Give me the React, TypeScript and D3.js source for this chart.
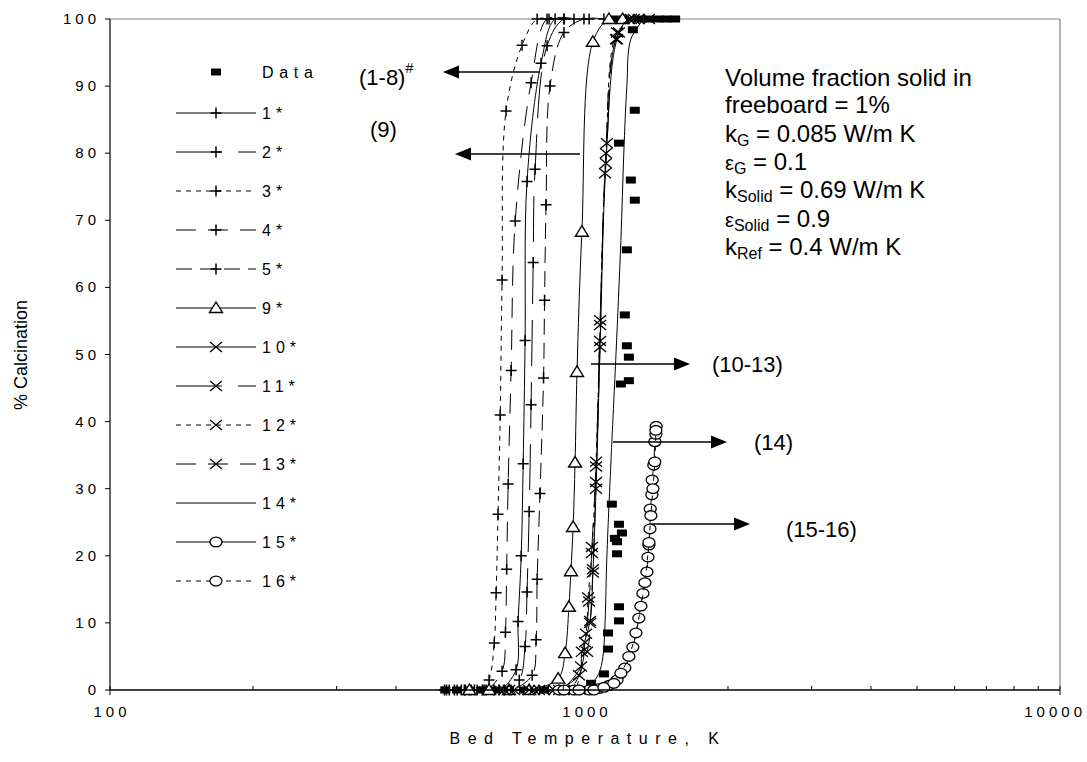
import React from 'react';
import * as d3 from 'd3';

type Pt = [number, number];

// ---- data: [bed temperature K, % calcination] ----
const dataPts: Pt[] = [[508,0],[538,0],[571,0],[605,0],[644,0],[692,0],[744,0],[820,0],[903,0],[995,0],[1030,1],[1096,2.4],[1118,6.1],[1118,8.5],[1179,10.3],[1179,12.4],[1168,20.3],[1168,22.1],[1156,22.6],[1196,23.4],[1179,24.7],[1139,27.7],[1190,45.6],[1237,46.1],[1237,49.6],[1225,51.3],[1213,55.9],[1225,65.6],[1273,73],[1249,76],[1179,81.5],[1273,86.4],[1261,98.4],[1150,100],[1207,100],[1298,100],[1363,100],[1430,100],[1487,100],[1548,100]];
const s1: Pt[] = [[538,0],[593,0],[660,0],[716,3.0],[723,10.2],[734,20],[741,33.7],[748,52.1],[755,75.8],[808,93.4],[865,100],[948,100]];
const s2: Pt[] = [[560,0],[613,0],[676,0],[727,1.5],[748,6.5],[755,14.6],[763,26.6],[770,42.5],[778,63.7],[785,77.6],[832,96],[903,100],[1020,100]];
const s3: Pt[] = [[506,0],[531,0],[557,0],[585,0],[608,0],[628,1.5],[644,7],[650,14.5],[656,26.2],[663,41],[669,61.1],[682,86.3],[737,96.1],[793,100],[840,100]];
const s4: Pt[] = [[518,0],[549,0],[576,0],[619,0],[669,2.8],[680,8.6],[684,18],[689,30.7],[699,47.6],[713,69.9],[770,90.5],[832,100],[903,100]];
const s5: Pt[] = [[511,0],[571,0],[644,0],[699,0],[774,2.2],[789,7.5],[793,16.5],[804,29.3],[818,46.5],[822,58.1],[828,72.3],[844,90],[903,98],[995,100],[1096,100]];
const s9: Pt[] = [[571,0],[628,0],[692,0],[763,0],[878,1.7],[908,5.5],[925,12.4],[934,17.7],[944,24.3],[953,33.9],[962,47.4],[985,68.3],[1039,96.6],[1123,100],[1200,100]];
const s10: Pt[] = [[660,0],[763,0],[861,0],[971,2.2],[985,5.7],[1025,10.3],[1039,17.5],[1055,30],[1076,51.1],[1107,78.5],[1168,97],[1237,100],[1363,100]];
const s11: Pt[] = [[676,0],[781,0],[882,0],[981,3.5],[1000,7.1],[1020,13.2],[1034,21.3],[1055,33.3],[1076,55.1],[1112,81.5],[1179,98],[1298,100]];
const s12: Pt[] = [[692,0],[800,0],[903,0],[948,0],[1005,8.4],[1015,13.8],[1034,20.4],[1055,34],[1076,54.4],[1107,80],[1168,98],[1267,100]];
const s13: Pt[] = [[709,0],[820,0],[925,0],[1010,5.7],[1025,10],[1039,18],[1055,31],[1076,52],[1102,77],[1162,97],[1249,100]];
const s14: Pt[] = [[882,0],[995,0.3],[1034,1],[1070,2.5],[1091,5],[1102,10],[1112,20],[1134,34],[1139,37],[1162,50],[1190,67],[1207,80],[1225,90],[1249,97],[1330,100]];
const s15: Pt[] = [[882,0],[948,0],[1020,0],[1070,0.2],[1123,0.7],[1168,1.5],[1213,3.3],[1261,6.4],[1298,10.7],[1324,14.4],[1350,17.6],[1357,19.8],[1363,21.6],[1370,24],[1372,27],[1383,29.1],[1385,31.3],[1396,33.5],[1403,37],[1410,38.1],[1412,39.3]];
const s16: Pt[] = [[903,0],[971,0],[1044,0],[1096,0.4],[1150,1],[1190,2.5],[1237,5],[1280,8.5],[1311,12.5],[1337,16],[1363,22],[1376,26],[1390,30],[1403,34],[1410,38.7]];

const xTickValues = [100, 1000, 10000];
const xMinorTicks = [200,300,400,500,600,700,800,900,2000,3000,4000,5000,6000,7000,8000,9000];
const yTickValues = [0,10,20,30,40,50,60,70,80,90,100];

type Marker = 'square' | 'plus' | 'tri' | 'x' | 'circle' | 'none';
interface Series { label: string; data: Pt[]; marker: Marker; dash: string | null; line: boolean; }

const series: Series[] = [
  { label: 'Data', data: dataPts, marker: 'square', dash: null, line: false },
  { label: '1*', data: s1, marker: 'plus', dash: null, line: true },
  { label: '2*', data: s2, marker: 'plus', dash: '46,16', line: true },
  { label: '3*', data: s3, marker: 'plus', dash: '5,5', line: true },
  { label: '4*', data: s4, marker: 'plus', dash: '20,12', line: true },
  { label: '5*', data: s5, marker: 'plus', dash: '16,8', line: true },
  { label: '9*', data: s9, marker: 'tri', dash: null, line: true },
  { label: '10*', data: s10, marker: 'x', dash: null, line: true },
  { label: '11*', data: s11, marker: 'x', dash: '46,16', line: true },
  { label: '12*', data: s12, marker: 'x', dash: '5,5', line: true },
  { label: '13*', data: s13, marker: 'x', dash: '20,12', line: true },
  { label: '14*', data: s14, marker: 'none', dash: null, line: true },
  { label: '15*', data: s15, marker: 'circle', dash: null, line: true },
  { label: '16*', data: s16, marker: 'circle', dash: '5,5', line: true },
];

const FONT = '"Liberation Sans", Arial, Helvetica, sans-serif';
const X0 = 110, X1 = 1060, Y0 = 690, Y1 = 19;

function MarkerShape({ type, cx, cy }: { type: Marker; cx: number; cy: number }) {
  switch (type) {
    case 'square':
      return <rect x={cx - 5} y={cy - 3.5} width={10} height={7} fill="#000" />;
    case 'plus':
      return <path d={`M${cx - 5.5},${cy}H${cx + 5.5}M${cx},${cy - 5.5}V${cy + 5.5}`} stroke="#000" strokeWidth={1.5} fill="none" />;
    case 'x':
      return <path d={`M${cx - 6},${cy - 5}L${cx + 6},${cy + 5}M${cx - 6},${cy + 5}L${cx + 6},${cy - 5}`} stroke="#000" strokeWidth={1.3} fill="none" />;
    case 'tri':
      return <polygon points={`${cx},${cy - 6} ${cx + 6.5},${cy + 4.5} ${cx - 6.5},${cy + 4.5}`} fill="#fff" stroke="#000" strokeWidth={1.4} />;
    case 'circle':
      return <ellipse cx={cx} cy={cy} rx={6} ry={4.8} fill="#fff" stroke="#000" strokeWidth={1.3} />;
    default:
      return null;
  }
}

function Arrow({ x1, x2, yy }: { x1: number; x2: number; yy: number }) {
  const dir = x2 > x1 ? 1 : -1;
  const hl = 16, hw = 6.5;
  return (
    <g>
      <line x1={x1} y1={yy} x2={x2 - dir * hl} y2={yy} stroke="#000" strokeWidth={1.5} />
      <polygon points={`${x2},${yy} ${x2 - dir * hl},${yy - hw} ${x2 - dir * hl},${yy + hw}`} fill="#000" />
    </g>
  );
}

export default function App() {
  const x = d3.scaleLog().domain([100, 10000]).range([X0, X1]);
  const y = d3.scaleLinear().domain([0, 100]).range([Y0, Y1]);
  const lineGen = d3.line<Pt>().x(d => x(d[0])).y(d => y(d[1])).curve(d3.curveCatmullRom.alpha(0.5));

  const legendRows = series.map((s, i) => ({ s, yy: i === 0 ? 72 : 113 + (i - 1) * 39 }));

  const txtX = 725;
  const txtLines = [86, 113, 142, 170, 198, 227, 255];
  const fs = 24;
  const sub = 16;
  const afs = 22;
  const tickLS = 4;

  return (
    <svg width={1087} height={762} style={{ position: 'absolute', left: 0, top: 0, background: '#fff' }} fontFamily={FONT}>
      <rect x={0} y={0} width={1087} height={762} fill="#fff" />
      {/* plot-area border (top, right) */}
      <line x1={X0} x2={X1} y1={y(100)} y2={y(100)} stroke="#808080" strokeWidth={1.2} />
      <line x1={X1} x2={X1} y1={y(100)} y2={y(0)} stroke="#808080" strokeWidth={1.2} />

      {/* series */}
      {series.map((s, i) => (
        <g key={i}>
          {s.line && (
            <path d={lineGen(s.data) || ''} fill="none" stroke="#000" strokeWidth={1} strokeDasharray={s.dash || undefined} />
          )}
          {s.data.map((d, j) => <MarkerShape key={j} type={s.marker} cx={x(d[0])} cy={y(d[1])} />)}
        </g>
      ))}

      {/* axes */}
      <line x1={X0} x2={X0} y1={Y1} y2={Y0} stroke="#000" strokeWidth={1.2} />
      <line x1={X0} x2={X1} y1={Y0} y2={Y0} stroke="#000" strokeWidth={1.5} />
      {yTickValues.map(v => (
        <g key={v}>
          <line x1={X0 - 5} x2={X0} y1={y(v)} y2={y(v)} stroke="#000" strokeWidth={1} />
          <text x={96 + tickLS} y={y(v) + 5} textAnchor="end" fontSize={15} letterSpacing={tickLS}>{v}</text>
        </g>
      ))}
      {xTickValues.map((v, i) => (
        <g key={v}>
          <line x1={x(v)} x2={x(v)} y1={Y0 - 4} y2={Y0 + 5} stroke="#000" strokeWidth={1} />
          {i < xTickValues.length - 1 ? (
            <text x={x(v) + tickLS / 2} y={717} textAnchor="middle" fontSize={15} letterSpacing={tickLS}>{v}</text>
          ) : (
            <text x={1082 + tickLS} y={717} textAnchor="end" fontSize={15} letterSpacing={tickLS}>{v}</text>
          )}
        </g>
      ))}
      {xMinorTicks.map(v => (
        <line key={v} x1={x(v)} x2={x(v)} y1={Y0 - 4} y2={Y0} stroke="#000" strokeWidth={1} />
      ))}
      <text x={588} y={744} textAnchor="middle" fontSize={16} letterSpacing={7.5}>Bed Temperature, K</text>
      <text transform="translate(27,355) rotate(-90)" textAnchor="middle" fontSize={18}>% Calcination</text>

      {/* legend */}
      {legendRows.map(({ s, yy }, i) => (
        <g key={i}>
          {s.line && <line x1={176} x2={256} y1={yy} y2={yy} stroke="#000" strokeWidth={1} strokeDasharray={s.dash || undefined} />}
          <MarkerShape type={s.marker} cx={216} cy={yy} />
          <text x={262} y={yy + 6} fontSize={16} letterSpacing={i === 0 ? 5.7 : 5}>{s.label}</text>
        </g>
      ))}

      {/* annotations */}
      <Arrow x1={540} x2={443} yy={72} />
      <text x={359} y={85} fontSize={afs}>(1-8)<tspan dy={-12} fontSize={14}>#</tspan></text>
      <Arrow x1={580} x2={455} yy={154} />
      <text x={370} y={137} fontSize={afs}>(9)</text>
      <Arrow x1={591} x2={690} yy={364} />
      <text x={712} y={372} fontSize={afs}>(10-13)</text>
      <Arrow x1={613} x2={727} yy={442} />
      <text x={754} y={450} fontSize={afs}>(14)</text>
      <Arrow x1={651} x2={750} yy={524} />
      <text x={786} y={537} fontSize={afs}>(15-16)</text>

      {/* parameter box */}
      <g fontSize={fs} style={{ whiteSpace: 'pre' }}>
        <text x={txtX} y={txtLines[0]}>Volume fraction solid in</text>
        <text x={txtX} y={txtLines[1]}>freeboard  = 1%</text>
        <text x={txtX} y={txtLines[2]}>k<tspan dy={4} fontSize={sub}>G</tspan><tspan dy={-4}> = 0.085 W/m K</tspan></text>
        <text x={txtX} y={txtLines[3]}><tspan fontSize={20}>ε</tspan><tspan dy={4} fontSize={sub}>G</tspan><tspan dy={-4}>  = 0.1</tspan></text>
        <text x={txtX} y={txtLines[4]}>k<tspan dy={4} fontSize={sub}>Solid</tspan><tspan dy={-4}> = 0.69 W/m K</tspan></text>
        <text x={txtX} y={txtLines[5]}><tspan fontSize={20}>ε</tspan><tspan dy={4} fontSize={sub}>Solid</tspan><tspan dy={-4}>  = 0.9</tspan></text>
        <text x={txtX} y={txtLines[6]}>k<tspan dy={4} fontSize={sub}>Ref</tspan><tspan dy={-4}>  = 0.4 W/m K</tspan></text>
      </g>
    </svg>
  );
}
